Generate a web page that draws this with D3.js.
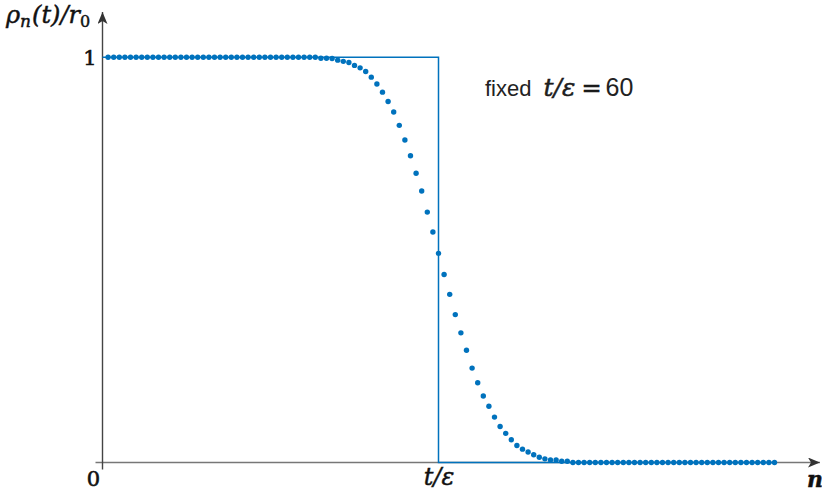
<!DOCTYPE html>
<html>
<head>
<meta charset="utf-8">
<script src="https://cdn.jsdelivr.net/npm/d3@7"></script>
<style>
  html, body { margin: 0; padding: 0; background: #fff; }
  svg { display: block; }
  .math { font-family: "DejaVu Serif", "Liberation Serif", serif; font-style: italic; stroke: #111; stroke-width: 0.45px; }
  .num { font-family: "DejaVu Serif", "Liberation Serif", serif; stroke: #111; stroke-width: 0.6px; }
  .sans { font-family: "Liberation Sans", Arial, sans-serif; }
</style>
</head>
<body>
<div id="chart"></div>
<script>
// n = 1 ... 120, t/eps fixed at 60
const nValues = d3.range(1, 121);
// rho_n(t) / r0
const rhoValues = [
  1, 1, 1, 1, 1, 1, 1, 1, 1, 1,
  1, 1, 1, 1, 1, 1, 1, 1, 1, 1,
  1, 1, 1, 1, 1, 1, 1, 1, 1, 1,
  1, 1, 1, 1, 1, 1, 1, 1, 0.9975, 0.9975,
  0.997, 0.993, 0.990, 0.987, 0.980, 0.974, 0.965, 0.951, 0.934, 0.914,
  0.891, 0.865, 0.832, 0.796, 0.757, 0.714, 0.670, 0.618, 0.569, 0.516,
  0.464, 0.415, 0.365, 0.320, 0.277, 0.233, 0.197, 0.164, 0.139, 0.112,
  0.089, 0.072, 0.056, 0.042, 0.033, 0.026, 0.019, 0.013, 0.009, 0.006,
  0.006, 0.003, 0.003, 0, 0, 0, 0, 0, 0, 0,
  0, 0, 0, 0, 0, 0, 0, 0, 0, 0,
  0, 0, 0, 0, 0, 0, 0, 0, 0, 0,
  0, 0, 0, 0, 0, 0, 0, 0, 0, 0
];
// step function: 1 up to t/eps, then 0
const stepN = [0, 60, 60, 120];
const stepValues = [1, 1, 0, 0];
const xTickValues = [0, 60];
const xTickLabels = ["0", "t/ε"];
const yTickValues = [1];
const yTickLabels = ["1"];

const width = 822, height = 498;
const blue = "#0072bd";
const axisColor = "#444";

const svg = d3.select("#chart").append("svg")
  .attr("width", width).attr("height", height);

const x = d3.scaleLinear().domain([0, 120]).range([102.5, 774.5]);
const y = d3.scaleLinear().domain([0, 1]).range([462.5, 57.3]);

// arrow heads
const defs = svg.append("defs");
defs.append("marker")
  .attr("id", "arrow")
  .attr("viewBox", "0 0 12 10")
  .attr("refX", 12).attr("refY", 5)
  .attr("markerWidth", 12).attr("markerHeight", 10)
  .attr("markerUnits", "userSpaceOnUse")
  .attr("orient", "auto")
  .append("path")
  .attr("d", "M0,0 L12,5 L0,10 L3,5 Z")
  .attr("fill", "#333");

// axes lines
svg.append("line")
  .attr("x1", x(0) - 7).attr("x2", 820)
  .attr("y1", y(0)).attr("y2", y(0))
  .attr("stroke", "#777").attr("stroke-width", 1.4)
  .attr("marker-end", "url(#arrow)");
svg.append("line")
  .attr("x1", x(0)).attr("x2", x(0))
  .attr("y1", y(0) + 7).attr("y2", 12)
  .attr("stroke", axisColor).attr("stroke-width", 1.4)
  .attr("marker-end", "url(#arrow)");

// tick labels through d3 axes
const xAxis = d3.axisBottom(x).tickValues(xTickValues).tickSize(0).tickPadding(8)
  .tickFormat((d, i) => xTickLabels[i]);
const gx = svg.append("g").attr("transform", `translate(0,${y(0)})`).call(xAxis);
gx.select(".domain").remove();
gx.selectAll(".tick text")
  .attr("class", (d, i) => i === 0 ? "num" : "math")
  .attr("font-size", (d, i) => i === 0 ? 21 : 24)
  .attr("fill", "#111")
  .attr("dx", (d, i) => i === 0 ? -9.5 : 0)
  .attr("dy", (d, i) => i === 0 ? "0.72em" : "0.62em");

const yAxis = d3.axisLeft(y).tickValues(yTickValues).tickSize(0).tickPadding(6)
  .tickFormat((d, i) => yTickLabels[i]);
const gy = svg.append("g").attr("transform", `translate(${x(0)},0)`).call(yAxis);
gy.select(".domain").remove();
gy.selectAll(".tick text")
  .attr("class", "num").attr("font-size", 21).attr("fill", "#111");

// step line
const stepData = stepN.map((n, i) => [n, stepValues[i]]);
svg.append("path")
  .datum(stepData)
  .attr("fill", "none")
  .attr("stroke", blue)
  .attr("stroke-width", 1.5)
  .attr("d", d3.line().x(d => x(d[0])).y(d => y(d[1])));

// dots
svg.append("g").selectAll("circle")
  .data(nValues.map((n, i) => [n, rhoValues[i]]))
  .enter().append("circle")
  .attr("cx", d => x(d[0]))
  .attr("cy", d => y(d[1]))
  .attr("r", 2.7)
  .attr("fill", blue);

// axis titles
const yTitle = svg.append("text").attr("class", "math")
  .attr("x", 6).attr("y", 23).attr("font-size", 24).attr("fill", "#111");
yTitle.append("tspan").text("ρ");
yTitle.append("tspan").attr("font-size", 17).attr("dy", 4).text("n");
yTitle.append("tspan").attr("dy", -4).attr("dx", 1).text("(t)/r");
yTitle.append("tspan").attr("font-size", 16).attr("dy", 4).attr("font-style", "normal").text("0");

svg.append("text").attr("class", "math")
  .attr("x", 807).attr("y", 487).attr("font-size", 22).attr("fill", "#111")
  .attr("font-weight", "bold")
  .text("n");

// annotation
const note = svg.append("text").attr("x", 485).attr("y", 96).attr("fill", "#222");
note.append("tspan").attr("class", "sans").attr("font-size", 22).text("fixed");
note.append("tspan").attr("class", "math").attr("font-size", 25).attr("dx", 12).text("t/ε");
note.append("tspan").attr("class", "num").attr("font-size", 24).attr("dx", 6).attr("stroke-width", 0.2).text("=");
note.append("tspan").attr("class", "sans").attr("font-size", 25).attr("dx", 4).text("60");
</script>
</body>
</html>
